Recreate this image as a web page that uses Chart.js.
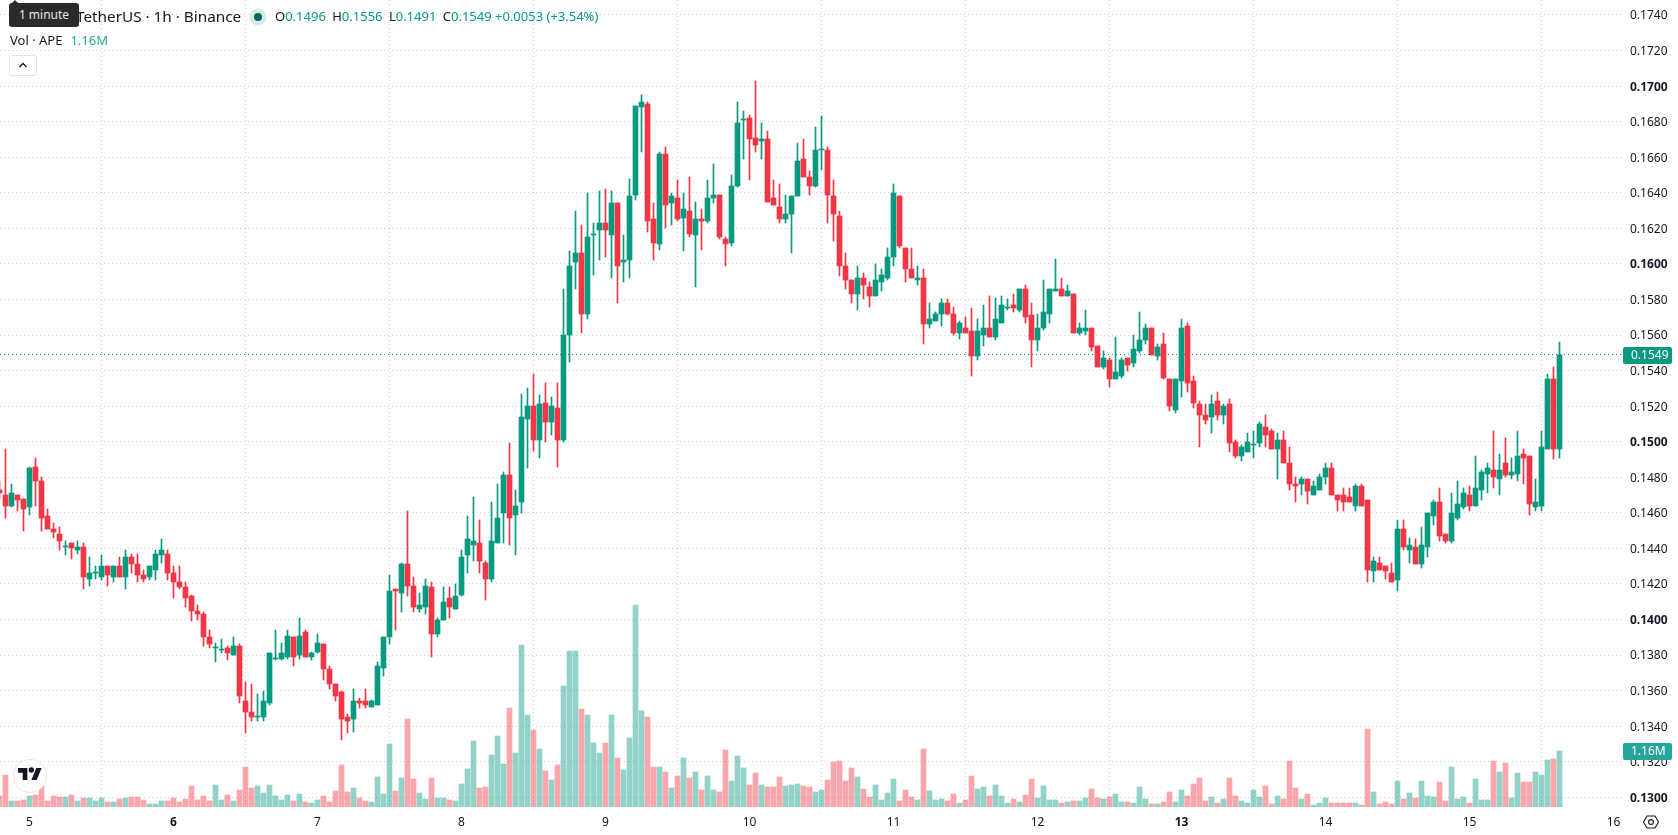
<!DOCTYPE html>
<html>
<head>
<meta charset="utf-8">
<title>APE / TetherUS</title>
<script src="https://cdn.jsdelivr.net/npm/chart.js@4/dist/chart.umd.min.js"></script>
<style>
  html, body { margin: 0; padding: 0; background: #fff; overflow: hidden; }
  body { width: 1678px; height: 835px; position: relative; font-family: "Noto Sans", sans-serif; color: #131722; }
  canvas { position: absolute; left: 0; top: 0; }
  .abs { position: absolute; white-space: nowrap; }
  #title { left: 76px; top: 6px; font-size: 15.3px; line-height: 20px; }
  #ohlc { left: 275px; top: 7px; font-size: 13px; line-height: 18px; color: #089981; }
  #ohlc b { font-weight: 400; color: #131722; margin-left: 3px; }
  #ohlc b:first-child { margin-left: 0; }
  #volume { left: 10px; top: 31px; font-size: 13px; line-height: 18px; }
  #volume span { color: #26a69a; margin-left: 8px; }
  #collapse { left: 9px; top: 55px; width: 28px; height: 21px; box-sizing: border-box; border: 1px solid #e0e3eb; border-radius: 3px; background: #fff; }
  #hint { left: 9px; top: 3px; width: 70px; height: 24px; background: #2a2a2a; color: #e8e8e8; border-radius: 3px; font-size: 12px; line-height: 24px; text-align: center; }
  #hintArrow { left: 11px; top: 0; width: 0; height: 0; border-left: 4px solid transparent; border-right: 4px solid transparent; border-bottom: 4px solid #2a2a2a; }
  #logo { left: 13px; top: 759px; width: 34px; height: 34px; box-sizing: border-box; border: 1px solid #e6e6e6; border-radius: 50%; background: #fff; }
</style>
</head>
<body>
<canvas id="chart" width="1678" height="835"></canvas>

<div class="abs" id="title">TetherUS · 1h · Binance</div>
<svg class="abs" style="left:248px;top:7px" width="20" height="20">
  <circle cx="10" cy="10" r="8.5" fill="#d6ecea"/>
  <circle cx="10" cy="10" r="4" fill="#00695c"/>
</svg>
<div class="abs" id="ohlc"><b>O</b>0.1496 <b>H</b>0.1556 <b>L</b>0.1491 <b>C</b>0.1549 +0.0053 (+3.54%)</div>
<div class="abs" id="volume">Vol · APE<span>1.16M</span></div>
<div class="abs" id="collapse">
  <svg width="26" height="19"><path d="M9.5 11 L13 7.5 L16.5 11" fill="none" stroke="#131722" stroke-width="1.3"/></svg>
</div>
<div class="abs" id="hintArrow"></div>
<div class="abs" id="hint">1 minute</div>
<div class="abs" id="logo">
  <svg width="32" height="32" viewBox="-6 -8 48 48"><path d="M14 22H7V11H0V4h14v18zM28 22h-8l7.5-18h8L28 22z" fill="#131722"/><circle cx="20" cy="7" r="4" fill="#131722"/></svg>
</div>
<svg class="abs" style="left:1640px;top:811px" width="22" height="22">
  <path d="M7 5 H15 L18.5 11 L15 17 H7 L3.5 11 Z" fill="none" stroke="#131722" stroke-width="1.1"/>
  <circle cx="11" cy="11" r="2.4" fill="none" stroke="#131722" stroke-width="1.1"/>
</svg>

<script>
// hourly candles, first row ends just before the 00:00 bar of day 5, then one row per day
const opens = [
  0.1473,0.1470,0.1464,0.1470,0.1468,
  0.1463,0.1486,0.1478,0.1458,0.1451,0.1448,0.1441,0.1443,0.1439,0.1441,0.1423,0.1426,0.1424,0.1430,0.1424,0.1430,0.1424,0.1435,0.1431,0.1425,0.1424,0.1428,0.1436,0.1437,
  0.1426,0.1421,0.1418,0.1413,0.1405,0.1403,0.1390,0.1384,0.1383,0.1384,0.1380,0.1385,0.1354,0.1348,0.1345,0.1345,0.1353,0.1378,0.1378,0.1379,0.1390,0.1380,0.1393,0.1379,
  0.1382,0.1386,0.1372,0.1364,0.1359,0.1345,0.1344,0.1354,0.1354,0.1351,0.1352,0.1373,0.1390,0.1417,0.1415,0.1431,0.1419,0.1406,0.1407,0.1418,0.1392,0.1400,0.1412,0.1406,
  0.1414,0.1436,0.1442,0.1443,0.1432,0.1423,0.1443,0.1460,0.1481,0.1459,0.1466,0.1513,0.1520,0.1501,0.1522,0.1511,0.1519,0.1501,0.1560,0.1601,0.1606,0.1572,0.1616,0.1619,
  0.1623,0.1616,0.1634,0.1601,0.1602,0.1639,0.1688,0.1690,0.1625,0.1611,0.1662,0.1634,0.1637,0.1626,0.1630,0.1616,0.1625,0.1624,0.1637,0.1639,0.1614,0.1612,0.1644,0.1681,
  0.1682,0.1671,0.1669,0.1670,0.1637,0.1632,0.1625,0.1628,0.1638,0.1659,0.1649,0.1644,0.1664,0.1664,0.1638,0.1627,0.1599,0.1591,0.1583,0.1592,0.1587,0.1582,0.1590,0.1592,
  0.1604,0.1638,0.1609,0.1597,0.1591,0.1592,0.1566,0.1568,0.1572,0.1578,0.1572,0.1561,0.1564,0.1562,0.1548,0.1560,0.1564,0.1559,0.1567,0.1575,0.1577,0.1574,0.1586,0.1571,
  0.1557,0.1564,0.1572,0.1585,0.1586,0.1582,0.1583,0.1561,0.1562,0.1564,0.1554,0.1542,0.1546,0.1535,0.1537,0.1547,0.1544,0.1551,0.1557,0.1564,0.1548,0.1555,0.1535,0.1518,
  0.1534,0.1565,0.1534,0.1521,0.1515,0.1514,0.1523,0.1515,0.1521,0.1500,0.1492,0.1494,0.1498,0.1499,0.1508,0.1506,0.1496,0.1501,0.1488,0.1476,0.1476,0.1479,0.1470,0.1473,
  0.1480,0.1485,0.1470,0.1470,0.1469,0.1464,0.1475,0.1467,0.1427,0.1432,0.1430,0.1426,0.1422,0.1451,0.1439,0.1441,0.1431,0.1441,0.1458,0.1466,0.1448,0.1444,0.1457,0.1463,
  0.1470,0.1464,0.1473,0.1482,0.1484,0.1479,0.1488,0.1481,0.1482,0.1493,0.1492,0.1463,0.1464,0.1496,0.1535,0.1496
];
const highs = [
  0.1478,0.1496,0.1476,0.1470,0.1468,
  0.1486,0.1491,0.1480,0.1462,0.1454,0.1452,0.1444,0.1443,0.1444,0.1443,0.1435,0.1430,0.1436,0.1430,0.1430,0.1435,0.1439,0.1437,0.1437,0.1428,0.1430,0.1439,0.1445,0.1439,
  0.1430,0.1430,0.1421,0.1414,0.1408,0.1404,0.1394,0.1387,0.1389,0.1385,0.1390,0.1386,0.1365,0.1364,0.1358,0.1360,0.1381,0.1394,0.1387,0.1394,0.1390,0.1401,0.1394,0.1382,
  0.1392,0.1386,0.1374,0.1364,0.1360,0.1347,0.1361,0.1356,0.1361,0.1355,0.1376,0.1390,0.1425,0.1417,0.1432,0.1461,0.1424,0.1415,0.1423,0.1421,0.1401,0.1418,0.1418,0.1420,
  0.1439,0.1458,0.1469,0.1456,0.1433,0.1466,0.1476,0.1483,0.1499,0.1473,0.1527,0.1530,0.1538,0.1526,0.1533,0.1525,0.1533,0.1586,0.1607,0.1630,0.1622,0.1640,0.1623,0.1641,
  0.1642,0.1641,0.1634,0.1616,0.1648,0.1689,0.1695,0.1691,0.1634,0.1663,0.1666,0.1640,0.1647,0.1640,0.1649,0.1635,0.1631,0.1647,0.1656,0.1639,0.1615,0.1650,0.1691,0.1686,
  0.1684,0.1703,0.1679,0.1675,0.1647,0.1645,0.1639,0.1638,0.1668,0.1670,0.1652,0.1677,0.1683,0.1666,0.1647,0.1630,0.1606,0.1591,0.1599,0.1595,0.1590,0.1600,0.1597,0.1609,
  0.1645,0.1638,0.1609,0.1609,0.1599,0.1597,0.1578,0.1573,0.1580,0.1580,0.1576,0.1568,0.1570,0.1575,0.1569,0.1577,0.1582,0.1581,0.1582,0.1580,0.1583,0.1586,0.1588,0.1578,
  0.1572,0.1591,0.1586,0.1603,0.1592,0.1588,0.1583,0.1567,0.1574,0.1564,0.1554,0.1551,0.1547,0.1559,0.1547,0.1547,0.1560,0.1573,0.1566,0.1564,0.1555,0.1561,0.1535,0.1535,
  0.1569,0.1567,0.1537,0.1523,0.1521,0.1526,0.1528,0.1521,0.1524,0.1501,0.1498,0.1505,0.1506,0.1511,0.1515,0.1507,0.1505,0.1506,0.1497,0.1480,0.1480,0.1479,0.1478,0.1482,
  0.1488,0.1488,0.1470,0.1474,0.1474,0.1476,0.1476,0.1467,0.1435,0.1435,0.1430,0.1432,0.1456,0.1456,0.1446,0.1445,0.1452,0.1460,0.1467,0.1474,0.1448,0.1471,0.1478,0.1474,
  0.1475,0.1492,0.1484,0.1488,0.1506,0.1493,0.1502,0.1491,0.1506,0.1496,0.1492,0.1479,0.1506,0.1538,0.1542,0.1556
];
const lows = [
  0.1468,0.1457,0.1463,0.1461,0.1450,
  0.1459,0.1464,0.1450,0.1451,0.1446,0.1439,0.1436,0.1434,0.1437,0.1417,0.1419,0.1423,0.1422,0.1419,0.1421,0.1424,0.1417,0.1426,0.1421,0.1421,0.1422,0.1422,0.1432,0.1422,
  0.1412,0.1417,0.1407,0.1399,0.1400,0.1385,0.1384,0.1376,0.1381,0.1377,0.1380,0.1353,0.1336,0.1343,0.1343,0.1343,0.1352,0.1377,0.1377,0.1378,0.1374,0.1378,0.1379,0.1377,
  0.1381,0.1366,0.1361,0.1354,0.1332,0.1336,0.1337,0.1350,0.1350,0.1351,0.1352,0.1368,0.1386,0.1394,0.1404,0.1413,0.1404,0.1404,0.1403,0.1379,0.1390,0.1400,0.1401,0.1406,
  0.1413,0.1426,0.1433,0.1426,0.1411,0.1421,0.1443,0.1443,0.1442,0.1436,0.1460,0.1485,0.1495,0.1491,0.1500,0.1504,0.1486,0.1500,0.1545,0.1586,0.1561,0.1569,0.1594,0.1602,
  0.1604,0.1592,0.1578,0.1590,0.1592,0.1636,0.1663,0.1618,0.1602,0.1608,0.1620,0.1622,0.1624,0.1607,0.1615,0.1587,0.1608,0.1623,0.1634,0.1614,0.1599,0.1610,0.1643,0.1659,
  0.1647,0.1663,0.1659,0.1635,0.1633,0.1623,0.1623,0.1606,0.1638,0.1649,0.1639,0.1643,0.1653,0.1623,0.1613,0.1593,0.1586,0.1578,0.1574,0.1580,0.1576,0.1582,0.1585,0.1591,
  0.1599,0.1609,0.1590,0.1592,0.1588,0.1555,0.1564,0.1568,0.1565,0.1571,0.1560,0.1558,0.1561,0.1537,0.1546,0.1554,0.1559,0.1557,0.1567,0.1574,0.1573,0.1573,0.1567,0.1542,
  0.1551,0.1563,0.1567,0.1585,0.1582,0.1582,0.1561,0.1560,0.1560,0.1551,0.1542,0.1541,0.1531,0.1535,0.1536,0.1540,0.1542,0.1550,0.1555,0.1549,0.1546,0.1535,0.1517,0.1516,
  0.1525,0.1528,0.1519,0.1497,0.1510,0.1505,0.1512,0.1510,0.1494,0.1491,0.1489,0.1494,0.1491,0.1497,0.1497,0.1496,0.1479,0.1488,0.1473,0.1466,0.1470,0.1465,0.1470,0.1473,
  0.1476,0.1470,0.1461,0.1461,0.1466,0.1461,0.1464,0.1421,0.1421,0.1428,0.1423,0.1421,0.1416,0.1439,0.1432,0.1431,0.1429,0.1435,0.1453,0.1444,0.1443,0.1443,0.1456,0.1462,
  0.1461,0.1464,0.1467,0.1471,0.1474,0.1470,0.1480,0.1479,0.1478,0.1476,0.1459,0.1461,0.1461,0.1496,0.1490,0.1491
];
const closes = [
  0.1471,0.1464,0.1471,0.1467,0.1462,
  0.1485,0.1478,0.1457,0.1451,0.1449,0.1444,0.1441,0.1440,0.1441,0.1424,0.1426,0.1426,0.1430,0.1425,0.1430,0.1424,0.1435,0.1431,0.1425,0.1423,0.1430,0.1437,0.1439,0.1426,
  0.1421,0.1418,0.1412,0.1405,0.1403,0.1390,0.1386,0.1384,0.1383,0.1381,0.1385,0.1357,0.1348,0.1345,0.1346,0.1354,0.1381,0.1378,0.1381,0.1391,0.1379,0.1391,0.1379,0.1381,
  0.1387,0.1372,0.1364,0.1357,0.1344,0.1343,0.1354,0.1353,0.1352,0.1354,0.1374,0.1390,0.1416,0.1416,0.1431,0.1419,0.1407,0.1408,0.1419,0.1392,0.1400,0.1410,0.1407,0.1413,
  0.1435,0.1445,0.1444,0.1433,0.1423,0.1444,0.1457,0.1481,0.1457,0.1464,0.1514,0.1520,0.1501,0.1521,0.1511,0.1520,0.1501,0.1560,0.1599,0.1606,0.1572,0.1615,0.1617,0.1623,
  0.1619,0.1634,0.1599,0.1602,0.1638,0.1689,0.1691,0.1624,0.1612,0.1662,0.1633,0.1638,0.1625,0.1631,0.1617,0.1625,0.1624,0.1637,0.1639,0.1615,0.1611,0.1644,0.1679,0.1681,
  0.1670,0.1667,0.1670,0.1635,0.1633,0.1625,0.1628,0.1638,0.1658,0.1649,0.1644,0.1664,0.1664,0.1639,0.1628,0.1599,0.1591,0.1583,0.1592,0.1588,0.1582,0.1591,0.1594,0.1604,
  0.1640,0.1610,0.1597,0.1592,0.1592,0.1566,0.1569,0.1572,0.1578,0.1572,0.1561,0.1567,0.1561,0.1548,0.1562,0.1564,0.1559,0.1569,0.1577,0.1575,0.1575,0.1586,0.1570,0.1557,
  0.1564,0.1573,0.1586,0.1586,0.1582,0.1585,0.1561,0.1564,0.1564,0.1553,0.1542,0.1547,0.1535,0.1539,0.1546,0.1543,0.1552,0.1557,0.1564,0.1549,0.1553,0.1536,0.1520,0.1535,
  0.1564,0.1533,0.1522,0.1515,0.1512,0.1521,0.1515,0.1520,0.1499,0.1492,0.1497,0.1500,0.1498,0.1510,0.1504,0.1496,0.1501,0.1488,0.1476,0.1475,0.1479,0.1472,0.1475,0.1480,
  0.1485,0.1470,0.1467,0.1466,0.1466,0.1475,0.1464,0.1428,0.1433,0.1428,0.1427,0.1421,0.1451,0.1441,0.1442,0.1431,0.1442,0.1460,0.1466,0.1447,0.1444,0.1460,0.1465,0.1471,
  0.1464,0.1474,0.1483,0.1485,0.1480,0.1484,0.1481,0.1483,0.1492,0.1491,0.1465,0.1466,0.1497,0.1535,0.1496,0.1549
];
// volume in millions of APE
const volumes = [
  0.23,0.66,0.12,0.12,0.14,
  0.23,0.25,0.46,0.12,0.23,0.21,0.21,0.25,0.12,0.19,0.19,0.12,0.19,0.10,0.10,0.17,0.19,0.21,0.21,0.14,0.06,0.06,0.12,0.12,
  0.19,0.10,0.17,0.43,0.14,0.23,0.12,0.46,0.14,0.25,0.12,0.35,0.83,0.39,0.43,0.29,0.46,0.23,0.14,0.25,0.12,0.27,0.10,0.08,
  0.14,0.23,0.10,0.33,0.87,0.31,0.39,0.19,0.12,0.10,0.62,0.27,1.30,0.33,0.60,1.82,0.58,0.29,0.17,0.60,0.19,0.19,0.14,0.12,
  0.48,0.79,1.37,0.39,0.41,1.08,1.47,0.89,2.05,1.12,3.35,1.90,1.59,1.20,0.75,0.56,0.87,2.50,3.23,3.23,2.03,1.90,1.32,1.12,
  1.32,1.90,1.01,0.77,1.43,4.18,1.99,1.86,0.83,0.83,0.72,0.39,0.64,1.01,0.60,0.72,0.35,0.64,0.35,0.31,1.18,0.54,1.06,0.81,
  0.46,0.70,0.46,0.41,0.41,0.62,0.43,0.46,0.48,0.43,0.41,0.31,0.35,0.56,0.93,0.95,0.54,0.81,0.62,0.37,0.21,0.46,0.14,0.29,
  0.58,0.12,0.35,0.21,0.14,1.20,0.33,0.14,0.17,0.12,0.27,0.08,0.14,0.64,0.37,0.41,0.23,0.46,0.23,0.08,0.17,0.10,0.25,0.58,
  0.19,0.43,0.14,0.14,0.08,0.10,0.12,0.12,0.19,0.37,0.19,0.17,0.21,0.27,0.10,0.10,0.08,0.41,0.17,0.06,0.06,0.10,0.31,0.10,
  0.35,0.23,0.48,0.60,0.12,0.21,0.08,0.17,0.60,0.23,0.12,0.08,0.35,0.21,0.43,0.06,0.23,0.17,0.95,0.39,0.17,0.27,0.04,0.08,
  0.19,0.08,0.08,0.08,0.08,0.08,0.04,1.61,0.31,0.06,0.10,0.06,0.54,0.17,0.29,0.19,0.54,0.23,0.21,0.52,0.12,0.83,0.17,0.21,
  0.08,0.58,0.14,0.14,0.95,0.72,0.91,0.19,0.70,0.52,0.52,0.72,0.66,0.97,0.99,1.16
];
const dayLabels = ['5','6','7','8','9','10','11','12','13','14','15','16'];
const boldDays = ['6','13'];
const priceTicks = [0.1300,0.1320,0.1340,0.1360,0.1380,0.1400,0.1420,0.1440,0.1460,0.1480,0.1500,0.1520,0.1540,0.1560,0.1580,0.1600,0.1620,0.1640,0.1660,0.1680,0.1700,0.1720,0.1740];
const boldPrices = [0.1300,0.1400,0.1500,0.1600,0.1700];

const UP = '#089981';
const DOWN = '#F23645';
const UP_VOL = 'rgba(8,153,129,0.44)';
const DOWN_VOL = 'rgba(242,54,69,0.44)';
const FONT = '"Noto Sans", sans-serif';

// x axis counts hours from 00:00 of day 5, 6px per hour
const hours = opens.map((_, k) => k - 5);
const isUp = opens.map((o, k) => closes[k] >= o);
const candleColors = isUp.map(up => up ? UP : DOWN);
const volumeColors = isUp.map(up => up ? UP_VOL : DOWN_VOL);

const PLOT_W = 1622, PLOT_H = 807;
const xMin = -29.5 / 6, xMax = (PLOT_W - 29.5) / 6;
const lastClose = closes[closes.length - 1];
const lastVolume = volumes[volumes.length - 1];

// bars land on fractional y values, round them so candles stay crisp
const snapBars = {
  id: 'snapBars',
  beforeDatasetsDraw(chart) {
    chart.getSortedVisibleDatasetMetas().forEach(meta => {
      if (meta.type === 'line') {
        meta.data.forEach(pt => { pt.y = Math.floor(pt.y) + 0.5; });
        return;
      }
      meta.data.forEach(bar => {
        bar.base = Math.round(bar.base);
        bar.y = Math.round(bar.y);
        if (bar.y === bar.base) bar.y = bar.base - 1;
      });
    });
  }
};

// value boxes on the price axis
const axisBadges = {
  id: 'axisBadges',
  afterDraw(chart) {
    const ctx = chart.ctx;
    const badge = (y, text, color) => {
      ctx.save();
      ctx.fillStyle = color;
      ctx.beginPath();
      ctx.roundRect(1623, Math.round(y) - 8, 49, 17, 2);
      ctx.fill();
      ctx.fillStyle = '#fff';
      ctx.font = '12px ' + FONT;
      ctx.textAlign = 'left';
      ctx.textBaseline = 'middle';
      ctx.fillText(text, 1631, Math.round(y) + 1);
      ctx.restore();
    };
    badge(chart.scales.yVol.getPixelForValue(lastVolume), lastVolume.toFixed(2) + 'M', '#26a69a');
    badge(chart.scales.y.getPixelForValue(lastClose), lastClose.toFixed(4), UP);
  }
};

new Chart(document.getElementById('chart'), {
  data: {
    datasets: [
      {
        type: 'line',
        data: [{ x: xMin, y: lastClose }, { x: xMax, y: lastClose }],
        borderColor: UP,
        borderWidth: 1,
        borderDash: [1, 3],
        pointRadius: 0,
        yAxisID: 'y',
        order: 4
      },
      {
        type: 'bar',
        data: hours.map((h, k) => ({ x: h, y: volumes[k] })),
        backgroundColor: volumeColors,
        barThickness: 5,
        grouped: false,
        yAxisID: 'yVol',
        order: 3
      },
      {
        type: 'bar',
        data: hours.map((h, k) => ({ x: h, y: [lows[k], highs[k]] })),
        backgroundColor: candleColors,
        barThickness: 1,
        grouped: false,
        yAxisID: 'y',
        order: 2
      },
      {
        type: 'bar',
        data: hours.map((h, k) => ({ x: h, y: [opens[k], closes[k]] })),
        backgroundColor: candleColors,
        barThickness: 5,
        minBarLength: 1,
        grouped: false,
        yAxisID: 'y',
        order: 1
      }
    ]
  },
  options: {
    responsive: false,
    animation: false,
    events: [],
    layout: { padding: 0, autoPadding: false },
    plugins: { legend: { display: false }, tooltip: { enabled: false } },
    scales: {
      x: {
        type: 'linear',
        offset: false,
        min: xMin,
        max: xMax,
        grid: { color: '#d2d2d2', drawTicks: false },
        border: { display: false, dash: [1, 3] },
        afterBuildTicks(scale) {
          scale.ticks = dayLabels.map((_, d) => ({ value: d * 24 }));
        },
        afterFit(scale) {
          scale.height = 835 - PLOT_H;
          scale.paddingLeft = 0;
          scale.paddingRight = 0;
        },
        ticks: {
          autoSkip: false,
          maxRotation: 0,
          padding: 8,
          color: '#131722',
          callback: value => dayLabels[value / 24],
          font: c => ({ family: FONT, size: 12, weight: c.tick && boldDays.includes(dayLabels[c.tick.value / 24]) ? 'bold' : 'normal' })
        }
      },
      y: {
        position: 'right',
        min: 0.14 - (PLOT_H - 619.5) / 17780,
        max: 0.14 + 619.5 / 17780,
        grid: { color: '#d2d2d2', drawTicks: false },
        border: { display: false, dash: [1, 3] },
        afterBuildTicks(scale) {
          scale.ticks = priceTicks.map(v => ({ value: v }));
        },
        afterFit(scale) {
          scale.width = 1678 - PLOT_W;
          scale.paddingTop = 0;
          scale.paddingBottom = 0;
        },
        ticks: {
          padding: 8,
          labelOffset: 1,
          color: '#131722',
          callback: value => value.toFixed(4),
          font: c => ({ family: FONT, size: 12, weight: c.tick && boldPrices.includes(c.tick.value) ? 'bold' : 'normal' })
        }
      },
      // volume pane shares the bottom of the plot, scale is 1M per 48.3px
      yVol: {
        display: false,
        min: 0,
        max: PLOT_H / 48.3
      }
    }
  },
  plugins: [snapBars, axisBadges]
});
</script>
</body>
</html>
